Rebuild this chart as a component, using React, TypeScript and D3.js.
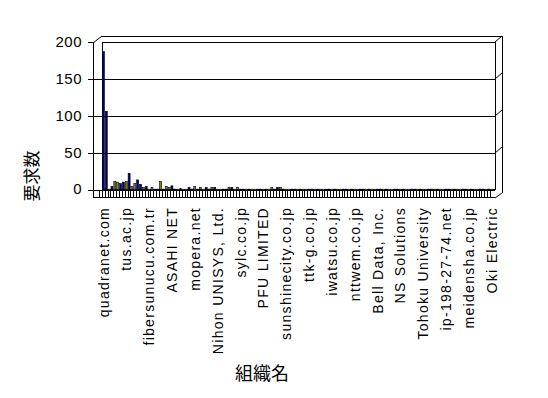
import React from 'react';
import * as d3 from 'd3';

// every 8th organisation carries a label on the category axis
const tickLabels = [
  'quadranet.com', 'tus.ac.jp', 'fibersunucu.com.tr', 'ASAHI NET', 'mopera.net',
  'Nihon UNISYS, Ltd.', 'sylc.co.jp', 'PFU LIMITED', 'sunshinecity.co.jp', 'ttk-g.co.jp',
  'iwatsu.co.jp', 'nttwem.co.jp', 'Bell Data, Inc.', 'NS Solutions', 'Tohoku University',
  'ip-198-27-74.net', 'meidensha.co.jp', 'Oki Electric',
];
const labelEvery = 8;

// request counts per organisation (137 organisations)
const requests = [
  187, 106, 1, 4, 11, 10, 8, 10, 11, 22,
  4, 8, 13, 7, 3, 4, 1, 3, 1, 1,
  11, 1, 4, 3, 5, 1, 1, 2, 1, 1,
  3, 1, 4, 1, 3, 1, 3, 1, 3, 3,
  1, 1, 1, 1, 3, 3, 1, 3, 1, 1,
  1, 1, 1, 1, 1, 1, 1, 1, 1, 3,
  1, 3, 3, 1, 1, 1, 1, 1, 1, 1,
  1, 1, 1, 1, 1, 1, 1, 1, 1, 1,
  1, 1, 1, 1, 1, 1, 1, 1, 1, 1,
  1, 1, 1, 1, 1, 1, 1, 1, 1, 1,
  1, 1, 1, 1, 1, 1, 1, 1, 1, 1,
  1, 1, 1, 1, 1, 1, 1, 1, 1, 1,
  1, 1, 1, 1, 1, 1, 1, 1, 1, 1,
  1, 1, 1, 1, 1, 1, 1,
];
const yTicks = [0, 50, 100, 150, 200];

const yTitle = '要求数';
const xTitle = '組織名';

const palette = ['#000080', '#000080', '#808000', '#000080', '#808000', '#808080'];

const W = 548;
const H = 398;
const left = 102;
const right = 493;
const top = 42;
const floorY = 189.5;
const wallL = 93;
const wallR = 495;
const depth = [7, -6];

const App = () => {
  const x = d3
    .scaleBand<number>()
    .domain(d3.range(requests.length))
    .range([left, right]);
  const y = d3.scaleLinear().domain([0, 200]).range([floorY, top]);
  const color = d3.scaleOrdinal<number, string>().domain(d3.range(palette.length)).range(palette);
  const bw = Math.min(2, x.bandwidth());

  return (
    <svg
      width={W}
      height={H}
      style={{ position: 'absolute', left: 0, top: 0, background: '#fff' }}
      fontFamily="'Liberation Sans', Arial, sans-serif"
    >
      {/* walls */}
      <g stroke="#000" strokeWidth={1} fill="none" shapeRendering="crispEdges">
        <rect x={left} y={top} width={wallR - left} height={floorY - top} fill="#fff" />
        <line x1={wallL} y1={top + 1} x2={wallL} y2={197} />
        <line x1={wallR + depth[0]} y1={top + depth[1]} x2={wallR + depth[0]} y2={193} />
        <line x1={left} y1={top + depth[1]} x2={wallR + depth[0]} y2={top + depth[1]} />
        {yTicks.slice(1, -1).map((t) => (
          <line key={t} x1={wallL} y1={Math.round(y(t))} x2={wallR} y2={Math.round(y(t))} />
        ))}
        {yTicks.map((t) => (
          <line key={'t' + t} x1={wallL - 5} y1={Math.round(y(t))} x2={wallL} y2={Math.round(y(t))} />
        ))}
        <line x1={wallL} y1={190.5} x2={wallR} y2={190.5} />
        <line x1={wallL} y1={197} x2={wallR} y2={197} />
        {d3.range(requests.length + 1).map((i) => {
          const xx = Math.round(left + i * x.step()) - 3;
          return <line key={'f' + i} x1={xx} y1={190.5} x2={xx} y2={197} />;
        })}
      </g>
      <g stroke="#000" strokeWidth={1} fill="none">
        <path d={`M${wallL},${top + 1}L${left},${top + depth[1]}`} />
        <path d={`M${wallR},${top}L${wallR + depth[0]},${top + depth[1]}`} />
        {yTicks.slice(1, -1).map((t) => (
          <path key={'d' + t} d={`M${wallR},${Math.round(y(t))}l${depth[0]},${depth[1]}`} />
        ))}
        <path d={`M${wallR + depth[0]},193L${wallR},198`} />
      </g>

      {/* bars */}
      <g>
        {requests.map((v, i) => {
          const h = floorY - y(v);
          return (
            <rect
              key={i}
              x={(x(i) as number) + x.bandwidth() / 2 - bw / 2}
              y={y(v)}
              width={bw}
              height={h}
              fill={color(i % palette.length)}
              stroke={h > 1.5 ? '#000' : 'none'}
              strokeWidth={0.6}
            />
          );
        })}
      </g>

      {/* value axis labels */}
      <g fontSize={15} textAnchor="end" letterSpacing={0.5}>
        {yTicks.map((t) => (
          <text key={t} x={82} y={y(t) + 1} dominantBaseline="middle">
            {t}
          </text>
        ))}
      </g>

      {/* category labels */}
      <g fontSize={14} textAnchor="end" letterSpacing={1.3}>
        {tickLabels.map((name, k) => {
          const i = k * labelEvery;
          const cx = (x(i) as number) + x.bandwidth() / 2 + 1.5;
          return (
            <text
              key={name}
              transform={`translate(${cx},207) rotate(-90)`}
              dominantBaseline="middle"
            >
              {name}
            </text>
          );
        })}
      </g>

      <text
        transform="translate(33,176) rotate(-90)"
        textAnchor="middle"
        dominantBaseline="middle"
        fontSize={17}
        fontFamily="'Noto Sans CJK JP', sans-serif"
      >
        {yTitle}
      </text>
      <text
        x={262}
        y={375}
        textAnchor="middle"
        dominantBaseline="middle"
        fontSize={18}
        fontFamily="'Noto Sans CJK JP', sans-serif"
      >
        {xTitle}
      </text>
    </svg>
  );
};

export default App;
